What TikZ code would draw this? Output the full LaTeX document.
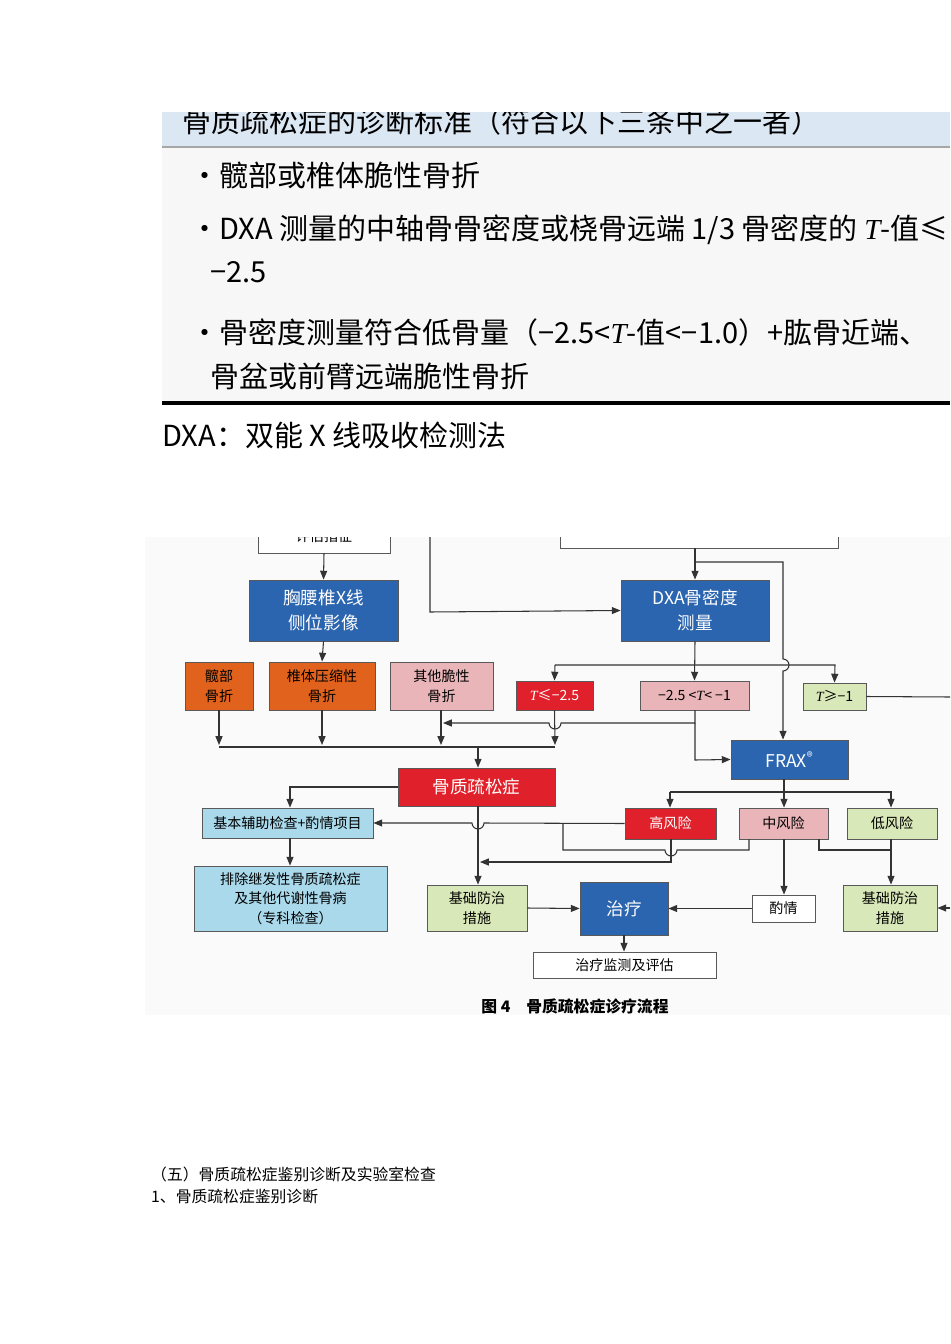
\documentclass[tikz,border=0pt]{standalone}
\usepackage{fontspec}
\setmainfont{Noto Sans CJK SC}
\newfontfamily\serif{Liberation Serif}
\newcommand\Ti{{\serif\itshape T}}
\usetikzlibrary{arrows.meta}
\definecolor{fblue}{HTML}{2B65B0}
\definecolor{forange}{HTML}{E0621C}
\definecolor{fpink}{HTML}{E9B5B9}
\definecolor{fred}{HTML}{E0202A}
\definecolor{fgreen}{HTML}{D9E8B8}
\definecolor{flblue}{HTML}{A9D9EB}
\definecolor{hdr}{HTML}{DCE7F4}
\newcommand\bx[7]{\node[box,#6,minimum width={(#4-#2)*0.02cm},minimum height={(#5-#3)*0.02cm}] (#1) at ({(#2+#4)/2},{(#3+#5)/2}) {#7};}
\begin{document}
\begin{tikzpicture}[x=0.02cm,y=-0.02cm,
  box/.style={draw=gray!70!black,line width=0.5pt,inner sep=1pt,align=center,font=\fontsize{8}{11}\selectfont},
  wt/.style={text=white},
  ln/.style={line width=0.6pt,draw=black!80},
  ar/.style={ln,-{Triangle[length=5pt,width=4pt]}},
  tt/.style={anchor=west,inner sep=0pt,font=\fontsize{16.5}{18}\selectfont}]
\useasboundingbox (0,0) rectangle (950,1344);
\fill[white] (0,0) rectangle (950,1344);
% ---- table
\begin{scope}
\clip (162,113) rectangle (950,465);
\fill[hdr] (162,100) rectangle (950,146);
\fill[gray!6] (162,147) rectangle (950,402);
\draw[gray!70,line width=1.2pt] (162,147) -- (950,147);
\node[tt] (h) at (182,121) {骨质疏松症的诊断标准（符合以下三条中之一者）};
\node[tt] (b1) at (190,175) {·髋部或椎体脆性骨折};
\node[tt] (b2) at (190,230) {·DXA 测量的中轴骨骨密度或桡骨远端 1/3 骨密度的 \Ti-值≤};
\node[tt] (b2b) at (210,272) {−2.5};
\node[tt] (b3) at (190,332) {·骨密度测量符合低骨量（−2.5<\Ti-值<−1.0）+肱骨近端、};
\node[tt] (b3b) at (210,376) {骨盆或前臂远端脆性骨折};
\draw[black,line width=2pt] (162,403) -- (950,403);
\node[tt] (note) at (162,435) {DXA：双能 X 线吸收检测法};
\end{scope}
% ---- flowchart
\begin{scope}
\clip (145,537) rectangle (950,1015);
\fill[gray!4] (145,537) rectangle (950,1015);
\bx{pg}{258}{520}{390}{553}{fill=white}{评估指征}
\bx{tr}{560}{500}{838}{548}{fill=white}{}
\bx{xr}{249}{580}{398}{641}{fill=fblue,wt,font=\fontsize{10}{14}\selectfont}{胸腰椎X线\\侧位影像}
\bx{dxa}{621}{580}{769}{641}{fill=fblue,wt,font=\fontsize{10}{14}\selectfont}{DXA骨密度\\测量}
\bx{hip}{185}{662}{253}{710}{fill=forange}{髋部\\骨折}
\bx{vert}{269}{662}{375}{710}{fill=forange}{椎体压缩性\\骨折}
\bx{oth}{390}{662}{493}{710}{fill=fpink}{其他脆性\\骨折}
\bx{t1}{516}{681}{593}{710}{fill=fred,wt}{\Ti≤−2.5}
\bx{t2}{640}{681}{749}{710}{fill=fpink}{−2.5 <\Ti< −1}
\bx{t3}{803}{683}{866}{710}{fill=fgreen}{\Ti≥−1}
\bx{frax}{731}{740}{848}{779}{fill=fblue,wt,font=\fontsize{10}{12}\selectfont}{FRAX\textsuperscript{®}}
\bx{op}{398}{768}{555}{806}{fill=fred,wt,font=\fontsize{10}{12}\selectfont}{骨质疏松症}
\bx{basic}{202}{808}{373}{838}{fill=flblue}{基本辅助检查+酌情项目}
\bx{hr}{625}{808}{716}{839}{fill=fred,wt}{高风险}
\bx{mr}{739}{808}{828}{839}{fill=fpink}{中风险}
\bx{lr}{847}{808}{937}{839}{fill=fgreen}{低风险}
\bx{excl}{194}{866}{387}{931}{fill=flblue}{排除继发性骨质疏松症\\及其他代谢性骨病\\（专科检查）}
\bx{bp1}{427}{885}{527}{931}{fill=fgreen}{基础防治\\措施}
\bx{tx}{580}{882}{668}{935}{fill=fblue,wt,font=\fontsize{10}{12}\selectfont}{治疗}
\bx{zq}{752}{895}{815}{922}{fill=white}{酌情}
\bx{bp2}{843}{885}{937}{931}{fill=fgreen}{基础防治\\措施}
\bx{mon}{533}{952}{716}{978}{fill=white}{治疗监测及评估}
\coordinate (re1) at (950,697);
\coordinate (re2) at (950,908);
% top connectors
\draw[ar] (pg.south) -- (xr.north);
\draw[ar] (430,537) -- (430,612) -- (dxa.west);
\draw[ar] (695,548) -- (dxa.north);
\draw[ar] (695,562) -- (783,562) -- (783,659) arc (90:-90:0.12cm) -- (frax.north -| 783,0);
\draw[ar] (xr.south) -- (vert.north);
\draw[ar] (dxa.south) -- (t2.north);
\draw[ar] (555,665) -- (t1.north);
\draw[ar] (555,665) -- (835,665) -- (t3.north);
\draw[ln] (t3.east) -- (re1);
% fractures to OP
\draw[ar] (hip.south) -- (219,745);
\draw[ar] (vert.south) -- (322,745);
\draw[ar] (441,710) -- (441,745);
\draw[ar] (t1.south) -- (555,745);
\draw[ln] (219,747) -- (555,747);
\draw[ar] (478,747) -- (op.north -| 478,0);
\draw[ar] (695,710) -- (695,723) -- (561,723) arc (0:-180:0.12cm) -- (443,723);
\draw[ar] (695,723) -- (695,760) -- (frax.west);
% FRAX branches
\draw[ar] (frax.south -| 784,0) -- (mr.north -| 784,0);
\draw[ar] (670,792) -- (hr.north -| 670,0);
\draw[ar] (670,792) -- (891,792) -- (lr.north -| 891,0);
% OP
\draw[ar] (op.west) -- (290,787) -- (basic.north -| 290,0);
\draw[ar] (basic.south -| 290,0) -- (excl.north -| 290,0);
\draw[ar] (op.south -| 478,0) -- (bp1.north -| 478,0);
\draw[ar] (hr.west) -- (484,823) arc (0:-180:0.12cm) -- (basic.east);
\draw[ln] (563,823) -- (563,850) -- (665,850) arc (180:360:0.12cm) -- (749,850) -- (mr.south -| 749,0);
\draw[ar] (hr.south -| 671,0) -- (671,862) -- (480,862);
\draw[ln] (mr.south -| 819,0) -- (819,850) -- (891,850);
\draw[ar] (lr.south -| 891,0) -- (bp2.north -| 891,0);
\draw[ar] (mr.south -| 784,0) -- (zq.north -| 784,0);
\draw[ar] (zq.west) -- (tx.east);
\draw[ar] (bp1.east) -- (tx.west);
\draw[ar] (re2) -- (bp2.east);
\draw[ar] (tx.south) -- (mon.north -| tx.south);
\node[font=\bfseries\fontsize{9}{11}\selectfont] (cap) at (575,1006) {图 4\quad 骨质疏松症诊疗流程};
\end{scope}
\node[anchor=west,font=\fontsize{9}{11}\selectfont] (s1) at (145,1174) {（五）骨质疏松症鉴别诊断及实验室检查};
\node[anchor=west,font=\fontsize{9}{11}\selectfont] (s2) at (145,1196) {1、骨质疏松症鉴别诊断};
\end{tikzpicture}
\end{document}
